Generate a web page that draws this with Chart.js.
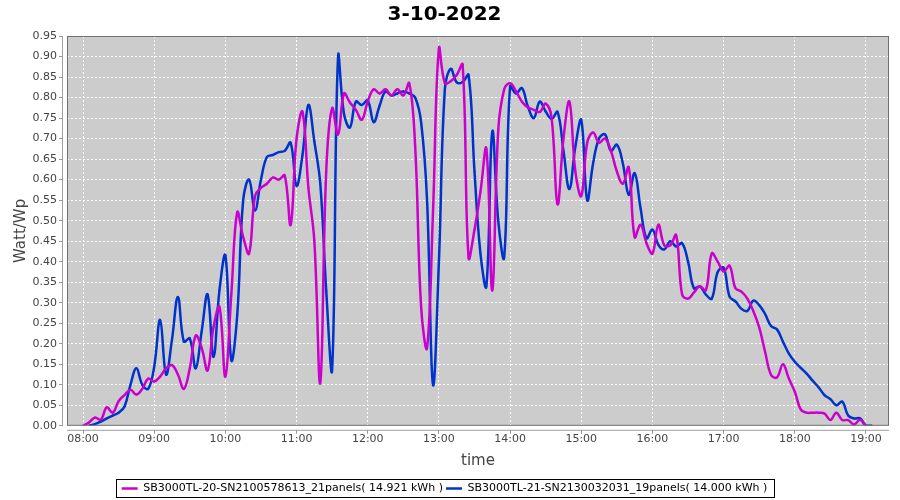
<!DOCTYPE html>
<html>
<head>
<meta charset="utf-8">
<script src="https://cdn.jsdelivr.net/npm/chart.js@4"></script>
<style>
  html, body { margin: 0; padding: 0; background: #fff; }
  #wrap { width: 900px; height: 500px; }
</style>
</head>
<body>
<div id="wrap"><canvas id="grafico" width="900" height="500"></canvas></div>
<script>
// tijdstippen (5 minuten)
const tijden = [
  '08:00','08:05','08:10','08:15','08:20','08:25','08:30','08:35','08:40','08:45','08:50','08:55',
  '09:00','09:05','09:10','09:15','09:20','09:25','09:30','09:35','09:40','09:45','09:50','09:55',
  '10:00','10:05','10:10','10:15','10:20','10:25','10:30','10:35','10:40','10:45','10:50','10:55',
  '11:00','11:05','11:10','11:15','11:20','11:25','11:30','11:35','11:40','11:45','11:50','11:55',
  '12:00','12:05','12:10','12:15','12:20','12:25','12:30','12:35','12:40','12:45','12:50','12:55',
  '13:00','13:05','13:10','13:15','13:20','13:25','13:30','13:35','13:40','13:45','13:50','13:55',
  '14:00','14:05','14:10','14:15','14:20','14:25','14:30','14:35','14:40','14:45','14:50','14:55',
  '15:00','15:05','15:10','15:15','15:20','15:25','15:30','15:35','15:40','15:45','15:50','15:55',
  '16:00','16:05','16:10','16:15','16:20','16:25','16:30','16:35','16:40','16:45','16:50','16:55',
  '17:00','17:05','17:10','17:15','17:20','17:25','17:30','17:35','17:40','17:45','17:50','17:55',
  '18:00','18:05','18:10','18:15','18:20','18:25','18:30','18:35','18:40','18:45','18:50','18:55',
  '19:00','19:05'
];

// SB3000TL-20 (21 panelen), Watt/Wp
const omvormer20 = [
  0.00, 0.008, 0.02, 0.015, 0.045, 0.032, 0.06, 0.075, 0.088, 0.076, 0.09, 0.115,
  0.108, 0.12, 0.14, 0.148, 0.125, 0.09, 0.14, 0.22, 0.19, 0.135, 0.24, 0.29,
  0.12, 0.32, 0.52, 0.46, 0.42, 0.56, 0.58, 0.59, 0.605, 0.60, 0.61, 0.49,
  0.70, 0.765, 0.58, 0.45, 0.105, 0.62, 0.774, 0.71, 0.81, 0.788, 0.77, 0.746,
  0.79, 0.82, 0.81, 0.82, 0.805, 0.82, 0.805, 0.835, 0.68, 0.29, 0.19, 0.52,
  0.92, 0.835, 0.84, 0.855, 0.88, 0.41, 0.478, 0.57, 0.675, 0.33, 0.72, 0.82,
  0.835, 0.815, 0.79, 0.776, 0.77, 0.765, 0.785, 0.75, 0.54, 0.70, 0.79, 0.62,
  0.56, 0.69, 0.715, 0.69, 0.70, 0.67, 0.62, 0.59, 0.63, 0.46, 0.49, 0.445,
  0.42, 0.49, 0.44, 0.44, 0.465, 0.32, 0.31, 0.325, 0.34, 0.33, 0.42, 0.40,
  0.376, 0.39, 0.335, 0.327, 0.31, 0.28, 0.24, 0.18, 0.124, 0.118, 0.15, 0.115,
  0.083, 0.04, 0.032, 0.032, 0.032, 0.03, 0.014, 0.032, 0.014, 0.014, 0.003, 0.015,
  0.0, null
];

// SB3000TL-21 (19 panelen), Watt/Wp
const omvormer21 = [
  null, 0.0, 0.004, 0.01, 0.018, 0.025, 0.032, 0.047, 0.10, 0.14, 0.10, 0.09,
  0.144, 0.258, 0.125, 0.21, 0.314, 0.205, 0.213, 0.14, 0.23, 0.32, 0.168, 0.33,
  0.415, 0.16, 0.27, 0.55, 0.60, 0.525, 0.60, 0.655, 0.66, 0.667, 0.67, 0.69,
  0.585, 0.66, 0.782, 0.693, 0.59, 0.33, 0.138, 0.90, 0.76, 0.727, 0.79, 0.782,
  0.793, 0.74, 0.78, 0.815, 0.805, 0.81, 0.815, 0.81, 0.80, 0.74, 0.55, 0.10,
  0.40, 0.82, 0.87, 0.837, 0.838, 0.855, 0.62, 0.42, 0.34, 0.717, 0.50, 0.41,
  0.827, 0.81, 0.823, 0.778, 0.75, 0.79, 0.766, 0.748, 0.765, 0.67, 0.577, 0.68,
  0.745, 0.55, 0.64, 0.70, 0.71, 0.67, 0.685, 0.64, 0.563, 0.616, 0.53, 0.457,
  0.478, 0.441, 0.43, 0.45, 0.437, 0.445, 0.40, 0.335, 0.34, 0.32, 0.31, 0.375,
  0.385, 0.315, 0.303, 0.285, 0.28, 0.305, 0.294, 0.272, 0.243, 0.235, 0.205, 0.176,
  0.156, 0.141, 0.127, 0.11, 0.094, 0.075, 0.065, 0.05, 0.059, 0.025, 0.018, 0.018,
  0.0, 0.0
];

const uurLabels = ['08:00','09:00','10:00','11:00','12:00','13:00','14:00','15:00','16:00','17:00','18:00','19:00'];
const naamReeks = [
  'SB3000TL-20-SN2100578613_21panels( 14.921 kWh )',
  'SB3000TL-21-SN2130032031_19panels( 14.000 kWh )'
];

function naarMinuten(t) {
  const p = t.split(':');
  return Number(p[0]) * 60 + Number(p[1]);
}

function naarTijd(m) {
  const h = Math.floor(m / 60), mm = Math.round(m % 60);
  return String(h).padStart(2, '0') + ':' + String(mm).padStart(2, '0');
}

function punten(waarden) {
  return waarden.map((v, i) => ({ x: naarMinuten(tijden[i]), y: v }));
}

// grijze plot-achtergrond, rand, losse assen en kader om de legenda
const plotAchtergrond = {
  id: 'plotAchtergrond',
  beforeDraw(chart) {
    const { ctx, chartArea: a } = chart;
    ctx.save();
    ctx.fillStyle = '#cccccc';
    ctx.fillRect(a.left, a.top, a.right - a.left, a.bottom - a.top);
    ctx.restore();
  },
  afterDraw(chart) {
    const { ctx, chartArea: a } = chart;
    ctx.save();
    // witte strook tussen as en plot
    ctx.fillStyle = '#fff';
    ctx.fillRect(a.left - 4, a.top, 4, a.bottom - a.top + 5);
    ctx.fillRect(a.left - 4, a.bottom, a.right - a.left + 5, 4);
    // aslijnen
    ctx.strokeStyle = '#a0a0a0';
    ctx.lineWidth = 1;
    ctx.beginPath();
    ctx.moveTo(a.left - 4.5, a.top);
    ctx.lineTo(a.left - 4.5, a.bottom + 0.5);
    ctx.moveTo(a.left, a.bottom + 4.5);
    ctx.lineTo(a.right, a.bottom + 4.5);
    ctx.stroke();
    // plotrand
    ctx.strokeStyle = '#707070';
    ctx.strokeRect(a.left + 0.5, a.top + 0.5, a.right - a.left - 1, a.bottom - a.top - 1);
    // kader legenda
    const boxes = chart.legend.legendHitBoxes;
    if (boxes && boxes.length) {
      const l = Math.min(...boxes.map(b => b.left)) - 6;
      const r = Math.max(...boxes.map(b => b.left + b.width)) + 6;
      const t = Math.min(...boxes.map(b => b.top)) - 4;
      const btm = Math.max(...boxes.map(b => b.top + b.height)) + 3;
      ctx.strokeStyle = '#000';
      ctx.strokeRect(Math.round(l) + 0.5, Math.round(t) + 0.5, Math.round(r - l), Math.round(btm - t));
    }
    ctx.restore();
  }
};

new Chart(document.getElementById('grafico'), {
  type: 'line',
  data: {
    datasets: [{
      label: naamReeks[0],
      data: punten(omvormer20),
      borderColor: '#cc00cc',
      backgroundColor: '#cc00cc',
      borderWidth: 2.5,
      pointRadius: 1,
      pointBorderWidth: 0,
      tension: 0.4
    }, {
      label: naamReeks[1],
      data: punten(omvormer21),
      borderColor: '#0033cc',
      backgroundColor: '#0033cc',
      borderWidth: 2.5,
      pointRadius: 1,
      pointBorderWidth: 0,
      tension: 0.4
    }]
  },
  options: {
    responsive: false,
    animation: false,
    layout: {
      padding: { left: 0, right: 11, top: 0, bottom: -4 }
    },
    plugins: {
      title: {
        display: true,
        text: '3-10-2022',
        color: '#000',
        font: { family: 'DejaVu Sans', size: 20, weight: 'bold' },
        padding: { top: 3, bottom: 9 }
      },
      legend: {
        position: 'bottom',
        labels: {
          color: '#000',
          font: { family: 'DejaVu Sans', size: 11 },
          usePointStyle: true,
          pointStyle: 'line',
          pointStyleWidth: 16,
          boxHeight: 6,
          padding: 3,
          generateLabels(chart) {
            const items = Chart.defaults.plugins.legend.labels.generateLabels(chart);
            items.forEach(it => { it.lineWidth = 2.5; it.pointStyle = 'line'; });
            return items;
          }
        }
      },
      tooltip: { enabled: false }
    },
    scales: {
      x: {
        type: 'linear',
        min: 466.5,
        max: 1159.4,
        afterBuildTicks(scale) {
          scale.ticks = uurLabels.map(u => ({ value: naarMinuten(u) }));
        },
        ticks: {
          autoSkip: false,
          maxRotation: 0,
          padding: -1,
          color: '#444',
          font: { family: 'DejaVu Sans', size: 11 },
          callback: v => naarTijd(v)
        },
        grid: {
          color: '#ffffff',
          lineWidth: 1,
          tickColor: '#999',
          tickLength: 8,
          tickBorderDash: []
        },
        border: { display: false, dash: [2, 2] },
        title: {
          display: true,
          text: 'time',
          color: '#444',
          font: { family: 'DejaVu Sans', size: 15 },
          padding: { top: 7, bottom: 10 }
        }
      },
      y: {
        min: 0,
        max: 0.95,
        afterFit(scale) { scale.width = 67; },
        ticks: {
          stepSize: 0.05,
          autoSkip: false,
          padding: 2,
          color: '#444',
          font: { family: 'DejaVu Sans', size: 11 },
          callback: v => v.toFixed(2)
        },
        grid: {
          color: '#ffffff',
          lineWidth: 1,
          tickColor: '#999',
          tickLength: 8,
          tickBorderDash: []
        },
        border: { display: false, dash: [2, 2] },
        title: {
          display: true,
          text: 'Watt/Wp',
          color: '#444',
          font: { family: 'DejaVu Sans', size: 15 },
          padding: { top: 12, bottom: 0 }
        }
      }
    }
  },
  plugins: [plotAchtergrond]
});
</script>
</body>
</html>
